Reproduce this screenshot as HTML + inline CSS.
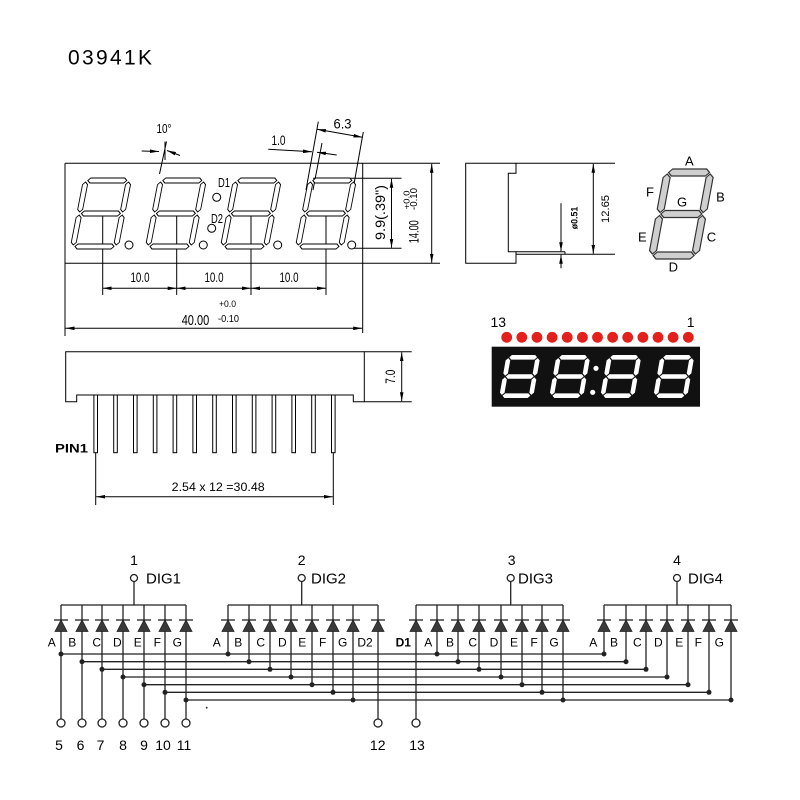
<!DOCTYPE html>
<html>
<head>
<meta charset="utf-8">
<style>
html,body{margin:0;padding:0;background:#fff;}
svg{display:block;}
text{font-family:"Liberation Sans",Arial,sans-serif;fill:#000;}
</style>
</head>
<body>
<svg width="800" height="800" viewBox="0 0 800 800" xmlns="http://www.w3.org/2000/svg">
<defs>
  <marker id="a" viewBox="0 0 10 4" refX="10" refY="2" markerWidth="9" markerHeight="3.6" orient="auto-start-reverse" markerUnits="userSpaceOnUse">
    <path d="M0,0 L10,2 L0,4 Z" fill="#000"/>
  </marker>
  <g id="fd" fill="#fff" stroke="#000" stroke-width="0.9">
    <polygon points="4.5,-68.5 7,-71 41,-71 43.5,-68.5 41,-66 7,-66"/>
    <polygon points="4.5,-35.5 7,-38 41,-38 43.5,-35.5 41,-33 7,-33"/>
    <polygon points="4.5,-2.5 7,-5 41,-5 43.5,-2.5 41,0 7,0"/>
    <polygon points="2.5,-67 5,-64.5 5,-39.5 2.5,-37 0,-39.5 0,-64.5"/>
    <polygon points="2.5,-34 5,-31.5 5,-6.5 2.5,-4 0,-6.5 0,-31.5"/>
    <polygon points="45.5,-67 48,-64.5 48,-39.5 45.5,-37 43,-39.5 43,-64.5"/>
    <polygon points="45.5,-34 48,-31.5 48,-6.5 45.5,-4 43,-6.5 43,-31.5"/>
  </g>
  <g id="sd" fill="#cfcfcf" stroke="#333" stroke-width="1.2">
    <polygon points="4.5,-86.5 8,-90 42,-90 45.5,-86.5 42,-83 8,-83"/>
    <polygon points="4.5,-45 8,-48.5 42,-48.5 45.5,-45 42,-41.5 8,-41.5"/>
    <polygon points="4.5,-3.5 8,-7 42,-7 45.5,-3.5 42,0 8,0"/>
    <polygon points="3.5,-85 7,-81.5 7,-50 3.5,-46.5 0,-50 0,-81.5"/>
    <polygon points="3.5,-43.5 7,-40 7,-8.5 3.5,-5 0,-8.5 0,-40"/>
    <polygon points="46.5,-85 50,-81.5 50,-50 46.5,-46.5 43,-50 43,-81.5"/>
    <polygon points="46.5,-43.5 50,-40 50,-8.5 46.5,-5 43,-8.5 43,-40"/>
  </g>
  <g id="rd" fill="#fff">
    <polygon points="3.1,-40.7 5.4,-43 28.6,-43 30.9,-40.7 28.6,-38.4 5.4,-38.4"/>
    <polygon points="3.1,-21.5 5.4,-23.8 28.6,-23.8 30.9,-21.5 28.6,-19.2 5.4,-19.2"/>
    <polygon points="3.1,-2.3 5.4,-4.6 28.6,-4.6 30.9,-2.3 28.6,0 5.4,0"/>
    <polygon points="2.3,-39.9 4.6,-37.6 4.6,-24.6 2.3,-22.3 0,-24.6 0,-37.6"/>
    <polygon points="2.3,-20.7 4.6,-18.4 4.6,-5.4 2.3,-3.1 0,-5.4 0,-18.4"/>
    <polygon points="31.7,-39.9 34,-37.6 34,-24.6 31.7,-22.3 29.4,-24.6 29.4,-37.6"/>
    <polygon points="31.7,-20.7 34,-18.4 34,-5.4 31.7,-3.1 29.4,-5.4 29.4,-18.4"/>
  </g>
  <g id="d">
    <line x1="-7" y1="0" x2="7" y2="0" stroke="#222" stroke-width="1.3"/>
    <polygon points="0,0 -6,11.5 6,11.5" fill="#3a3a3a" stroke="#222" stroke-width="0.8"/>
  </g>
</defs>

<rect width="800" height="800" fill="#fff"/>

<text x="68" y="64.5" font-size="21" textLength="84" lengthAdjust="spacing">03941K</text>

<!-- FRONT VIEW -->
<g stroke="#000" stroke-width="1" fill="none">
  <line x1="65" y1="163.3" x2="440" y2="163.3"/>
  <line x1="65" y1="263.3" x2="440" y2="263.3"/>
  <line x1="65" y1="163.3" x2="65" y2="336"/>
  <line x1="362.7" y1="163.3" x2="362.7" y2="333"/>
  <line x1="431.7" y1="163.8" x2="431.7" y2="262.8" marker-start="url(#a)" marker-end="url(#a)"/>
  <line x1="313" y1="178.3" x2="401.5" y2="178.3"/>
  <line x1="352" y1="248.3" x2="401.5" y2="248.3"/>
  <line x1="391.5" y1="178.8" x2="391.5" y2="247.8" marker-start="url(#a)" marker-end="url(#a)"/>
  <line x1="102.7" y1="213" x2="102.7" y2="295"/>
  <line x1="176.7" y1="213" x2="176.7" y2="295"/>
  <line x1="251" y1="213" x2="251" y2="295"/>
  <line x1="326" y1="213" x2="326" y2="295"/>
  <line x1="102.7" y1="288.3" x2="176.7" y2="288.3" marker-start="url(#a)" marker-end="url(#a)"/>
  <line x1="176.7" y1="288.3" x2="251" y2="288.3" marker-start="url(#a)" marker-end="url(#a)"/>
  <line x1="251" y1="288.3" x2="326" y2="288.3" marker-start="url(#a)" marker-end="url(#a)"/>
  <line x1="65.5" y1="328.3" x2="362.2" y2="328.3" marker-start="url(#a)" marker-end="url(#a)"/>
  <line x1="166.5" y1="141.5" x2="159.5" y2="174"/>
  <line x1="165" y1="141.5" x2="165" y2="160"/>
  <line x1="141.7" y1="151" x2="159" y2="151.5" marker-end="url(#a)"/>
  <line x1="180" y1="155.5" x2="167" y2="150.5" marker-end="url(#a)"/>
  <line x1="268.3" y1="149.3" x2="312" y2="151.8" marker-end="url(#a)"/>
  <line x1="336.7" y1="155" x2="317" y2="152.2" marker-end="url(#a)"/>
  <line x1="318.3" y1="121.7" x2="306" y2="190"/>
  <line x1="322" y1="143" x2="313" y2="190"/>
  <line x1="363.3" y1="132" x2="354" y2="184"/>
  <line x1="317" y1="129.3" x2="362.5" y2="137.3" marker-start="url(#a)" marker-end="url(#a)"/>
</g>

<use href="#fd" transform="translate(70,249) skewX(-11)"/>
<use href="#fd" transform="translate(145,249) skewX(-11)"/>
<use href="#fd" transform="translate(220,249) skewX(-11)"/>
<use href="#fd" transform="translate(295,249) skewX(-11)"/>
<g fill="#fff" stroke="#000" stroke-width="1">
  <circle cx="129" cy="245" r="4"/>
  <circle cx="203.3" cy="245" r="4"/>
  <circle cx="277.7" cy="245" r="4"/>
  <circle cx="351.7" cy="245" r="4"/>
  <circle cx="216.7" cy="197.3" r="4"/>
  <circle cx="211.7" cy="228.3" r="4"/>
</g>
<text x="218" y="187" font-size="13" textLength="12" lengthAdjust="spacingAndGlyphs">D1</text>
<text x="211" y="223" font-size="13" textLength="12" lengthAdjust="spacingAndGlyphs">D2</text>

<text x="130.5" y="282" font-size="14" textLength="19" lengthAdjust="spacingAndGlyphs">10.0</text>
<text x="204.5" y="282" font-size="14" textLength="19" lengthAdjust="spacingAndGlyphs">10.0</text>
<text x="279.5" y="282" font-size="14" textLength="19" lengthAdjust="spacingAndGlyphs">10.0</text>
<text x="181.7" y="325" font-size="15" textLength="27.5" lengthAdjust="spacingAndGlyphs">40.00</text>
<text x="219" y="307" font-size="9" textLength="17" lengthAdjust="spacingAndGlyphs">+0.0</text>
<text x="218" y="322" font-size="10" textLength="21" lengthAdjust="spacingAndGlyphs">-0.10</text>

<text x="156.5" y="133" font-size="13" textLength="15" lengthAdjust="spacingAndGlyphs">10°</text>
<text x="271.5" y="145" font-size="14" textLength="14" lengthAdjust="spacingAndGlyphs">1.0</text>
<text x="333.5" y="128.5" font-size="14" textLength="18" lengthAdjust="spacingAndGlyphs">6.3</text>

<text transform="translate(385,212.5) rotate(-90)" text-anchor="middle" font-size="14" textLength="55" lengthAdjust="spacingAndGlyphs">9.9(.39")</text>
<text transform="translate(409.5,200) rotate(-90)" text-anchor="middle" font-size="8" textLength="19" lengthAdjust="spacingAndGlyphs">+0.0</text>
<text transform="translate(417,199) rotate(-90)" text-anchor="middle" font-size="10" textLength="22" lengthAdjust="spacingAndGlyphs">-0.10</text>
<text transform="translate(418.5,231.7) rotate(-90)" text-anchor="middle" font-size="14" textLength="23" lengthAdjust="spacingAndGlyphs">14.00</text>

<!-- SIDE VIEW -->
<g stroke="#000" stroke-width="1" fill="none">
  <path d="M465.7,163.3 H516 V173.3 H508.3 V251.7 H516 V263.3 H465.7 Z"/>
  <line x1="516" y1="163.3" x2="615" y2="163.3"/>
  <line x1="516" y1="251.7" x2="565" y2="251.7"/>
  <line x1="516" y1="254.3" x2="615" y2="254.3"/>
  <line x1="565" y1="251.7" x2="565" y2="254.3"/>
  <line x1="593.3" y1="163.8" x2="593.3" y2="253.8" marker-start="url(#a)" marker-end="url(#a)"/>
  <line x1="561" y1="203.3" x2="561" y2="251.2" marker-end="url(#a)"/>
  <line x1="561" y1="268.3" x2="561" y2="254.8" marker-end="url(#a)"/>
</g>
<text transform="translate(609,209) rotate(-90)" text-anchor="middle" font-size="11" textLength="28" lengthAdjust="spacingAndGlyphs">12.65</text>
<text transform="translate(577.5,218) rotate(-90)" text-anchor="middle" font-size="9.5" font-weight="bold" textLength="22.6" lengthAdjust="spacingAndGlyphs">ø0.51</text>

<!-- SEGMENT DIAGRAM -->
<use href="#sd" transform="translate(648,259) skewX(-10.5)"/>
<g font-size="13" text-anchor="middle">
  <text x="689.3" y="165.5">A</text>
  <text x="650" y="196.5">F</text>
  <text x="720.5" y="201.5">B</text>
  <text x="682" y="206.5">G</text>
  <text x="642.3" y="241.5">E</text>
  <text x="711.5" y="241.5">C</text>
  <text x="673.3" y="271.5">D</text>
</g>

<!-- RED DISPLAY -->
<text x="498.3" y="327" font-size="14" text-anchor="middle">13</text>
<text x="690.7" y="327" font-size="14" text-anchor="middle">1</text>
<g fill="#e3201b">
  <circle cx="506.7" cy="337.3" r="5.4"/>
  <circle cx="521.8" cy="337.3" r="5.4"/>
  <circle cx="537.0" cy="337.3" r="5.4"/>
  <circle cx="552.1" cy="337.3" r="5.4"/>
  <circle cx="567.2" cy="337.3" r="5.4"/>
  <circle cx="582.4" cy="337.3" r="5.4"/>
  <circle cx="597.5" cy="337.3" r="5.4"/>
  <circle cx="612.6" cy="337.3" r="5.4"/>
  <circle cx="627.7" cy="337.3" r="5.4"/>
  <circle cx="642.9" cy="337.3" r="5.4"/>
  <circle cx="658.0" cy="337.3" r="5.4"/>
  <circle cx="673.1" cy="337.3" r="5.4"/>
  <circle cx="688.3" cy="337.3" r="5.4"/>
</g>
<rect x="491.7" y="346.7" width="208.3" height="60" fill="#111"/>
<use href="#rd" transform="translate(499,398) skewX(-10)"/>
<use href="#rd" transform="translate(549,398) skewX(-10)"/>
<use href="#rd" transform="translate(600,398) skewX(-10)"/>
<use href="#rd" transform="translate(653,398) skewX(-10)"/>
<circle cx="596" cy="368.3" r="2.6" fill="#fff"/>
<circle cx="592.7" cy="392.3" r="2.6" fill="#fff"/>

<!-- PIN VIEW -->
<g stroke="#000" stroke-width="1" fill="none">
  <path d="M65.7,351.7 H364.3 V401.7 H353.3 V395 H76.7 V401.7 H65.7 Z"/>
  <line x1="364.3" y1="351.7" x2="411.7" y2="351.7"/>
  <line x1="364.3" y1="401.7" x2="411.7" y2="401.7"/>
  <line x1="401.7" y1="352.2" x2="401.7" y2="401.2" marker-start="url(#a)" marker-end="url(#a)"/>
  <g fill="#fff">
    <rect x="93.9" y="395" width="3.6" height="57.7"/>
    <rect x="113.7" y="395" width="3.6" height="57.7"/>
    <rect x="133.5" y="395" width="3.6" height="57.7"/>
    <rect x="153.3" y="395" width="3.6" height="57.7"/>
    <rect x="173.1" y="395" width="3.6" height="57.7"/>
    <rect x="192.9" y="395" width="3.6" height="57.7"/>
    <rect x="212.7" y="395" width="3.6" height="57.7"/>
    <rect x="232.5" y="395" width="3.6" height="57.7"/>
    <rect x="252.3" y="395" width="3.6" height="57.7"/>
    <rect x="272.1" y="395" width="3.6" height="57.7"/>
    <rect x="291.9" y="395" width="3.6" height="57.7"/>
    <rect x="311.7" y="395" width="3.6" height="57.7"/>
    <rect x="331.5" y="395" width="3.6" height="57.7"/>
  </g>
  <line x1="95.7" y1="452.7" x2="95.7" y2="505"/>
  <line x1="333.3" y1="452.7" x2="333.3" y2="505"/>
  <line x1="96.2" y1="496.7" x2="332.8" y2="496.7" marker-start="url(#a)" marker-end="url(#a)"/>
</g>
<text transform="translate(395,376.7) rotate(-90)" text-anchor="middle" font-size="14" textLength="14" lengthAdjust="spacingAndGlyphs">7.0</text>
<text x="55" y="452.5" font-size="12" font-weight="bold" textLength="33" lengthAdjust="spacingAndGlyphs">PIN1</text>
<text x="171.7" y="491" font-size="12" textLength="93" lengthAdjust="spacingAndGlyphs">2.54 x 12 =30.48</text>

<!-- SCHEMATIC -->
<g stroke="#222" stroke-width="1.3" fill="none">
  <line x1="61" y1="605" x2="186" y2="605"/>
  <line x1="228" y1="605" x2="378" y2="605"/>
  <line x1="416" y1="605" x2="563" y2="605"/>
  <line x1="604" y1="605" x2="731" y2="605"/>
  <line x1="134" y1="581.5" x2="134" y2="605"/>
  <line x1="301.7" y1="581.5" x2="301.7" y2="605"/>
  <line x1="510.7" y1="581.5" x2="510.7" y2="605"/>
  <line x1="677" y1="581.5" x2="677" y2="605"/>
  <line x1="61" y1="605" x2="61" y2="719"/>
  <line x1="82" y1="605" x2="82" y2="719"/>
  <line x1="102" y1="605" x2="102" y2="719"/>
  <line x1="123" y1="605" x2="123" y2="719"/>
  <line x1="144" y1="605" x2="144" y2="719"/>
  <line x1="165" y1="605" x2="165" y2="719"/>
  <line x1="186" y1="605" x2="186" y2="719"/>
  <line x1="228" y1="605" x2="228" y2="654"/>
  <line x1="249" y1="605" x2="249" y2="661.7"/>
  <line x1="270" y1="605" x2="270" y2="669.3"/>
  <line x1="291" y1="605" x2="291" y2="677"/>
  <line x1="312" y1="605" x2="312" y2="684.7"/>
  <line x1="333" y1="605" x2="333" y2="692.3"/>
  <line x1="353" y1="605" x2="353" y2="700"/>
  <line x1="378" y1="605" x2="378" y2="719"/>
  <line x1="416" y1="605" x2="416" y2="719"/>
  <line x1="437" y1="605" x2="437" y2="654"/>
  <line x1="458" y1="605" x2="458" y2="661.7"/>
  <line x1="479" y1="605" x2="479" y2="669.3"/>
  <line x1="501" y1="605" x2="501" y2="677"/>
  <line x1="522" y1="605" x2="522" y2="684.7"/>
  <line x1="542" y1="605" x2="542" y2="692.3"/>
  <line x1="563" y1="605" x2="563" y2="700"/>
  <line x1="604" y1="605" x2="604" y2="654"/>
  <line x1="626" y1="605" x2="626" y2="661.7"/>
  <line x1="646" y1="605" x2="646" y2="669.3"/>
  <line x1="667" y1="605" x2="667" y2="677"/>
  <line x1="688" y1="605" x2="688" y2="684.7"/>
  <line x1="709" y1="605" x2="709" y2="692.3"/>
  <line x1="731" y1="605" x2="731" y2="700"/>
  <line x1="61" y1="654" x2="604" y2="654"/>
  <line x1="82" y1="661.7" x2="626" y2="661.7"/>
  <line x1="102" y1="669.3" x2="646" y2="669.3"/>
  <line x1="123" y1="677" x2="667" y2="677"/>
  <line x1="144" y1="684.7" x2="688" y2="684.7"/>
  <line x1="165" y1="692.3" x2="709" y2="692.3"/>
  <line x1="186" y1="700" x2="731" y2="700"/>
  <circle cx="134" cy="578" r="3.5" fill="#fff"/>
  <circle cx="301.7" cy="578" r="3.5" fill="#fff"/>
  <circle cx="510.7" cy="578" r="3.5" fill="#fff"/>
  <circle cx="677" cy="578" r="3.5" fill="#fff"/>
  <circle cx="61" cy="723" r="4" fill="#fff"/>
  <circle cx="82" cy="723" r="4" fill="#fff"/>
  <circle cx="102" cy="723" r="4" fill="#fff"/>
  <circle cx="123" cy="723" r="4" fill="#fff"/>
  <circle cx="144" cy="723" r="4" fill="#fff"/>
  <circle cx="165" cy="723" r="4" fill="#fff"/>
  <circle cx="186" cy="723" r="4" fill="#fff"/>
  <circle cx="378" cy="723" r="4" fill="#fff"/>
  <circle cx="416" cy="723" r="4" fill="#fff"/>
</g>

<g>
  <use href="#d" transform="translate(61,620)"/>
  <use href="#d" transform="translate(82,620)"/>
  <use href="#d" transform="translate(102,620)"/>
  <use href="#d" transform="translate(123,620)"/>
  <use href="#d" transform="translate(144,620)"/>
  <use href="#d" transform="translate(165,620)"/>
  <use href="#d" transform="translate(186,620)"/>
  <use href="#d" transform="translate(228,620)"/>
  <use href="#d" transform="translate(249,620)"/>
  <use href="#d" transform="translate(270,620)"/>
  <use href="#d" transform="translate(291,620)"/>
  <use href="#d" transform="translate(312,620)"/>
  <use href="#d" transform="translate(333,620)"/>
  <use href="#d" transform="translate(353,620)"/>
  <use href="#d" transform="translate(378,620)"/>
  <use href="#d" transform="translate(416,620)"/>
  <use href="#d" transform="translate(437,620)"/>
  <use href="#d" transform="translate(458,620)"/>
  <use href="#d" transform="translate(479,620)"/>
  <use href="#d" transform="translate(501,620)"/>
  <use href="#d" transform="translate(522,620)"/>
  <use href="#d" transform="translate(542,620)"/>
  <use href="#d" transform="translate(563,620)"/>
  <use href="#d" transform="translate(604,620)"/>
  <use href="#d" transform="translate(626,620)"/>
  <use href="#d" transform="translate(646,620)"/>
  <use href="#d" transform="translate(667,620)"/>
  <use href="#d" transform="translate(688,620)"/>
  <use href="#d" transform="translate(709,620)"/>
  <use href="#d" transform="translate(731,620)"/>
</g>

<g fill="#222">
  <circle cx="61" cy="654" r="2.5"/>
  <circle cx="82" cy="661.7" r="2.5"/>
  <circle cx="102" cy="669.3" r="2.5"/>
  <circle cx="123" cy="677" r="2.5"/>
  <circle cx="144" cy="684.7" r="2.5"/>
  <circle cx="165" cy="692.3" r="2.5"/>
  <circle cx="186" cy="700" r="2.5"/>
  <circle cx="228" cy="654" r="2.5"/>
  <circle cx="249" cy="661.7" r="2.5"/>
  <circle cx="270" cy="669.3" r="2.5"/>
  <circle cx="291" cy="677" r="2.5"/>
  <circle cx="312" cy="684.7" r="2.5"/>
  <circle cx="333" cy="692.3" r="2.5"/>
  <circle cx="353" cy="700" r="2.5"/>
  <circle cx="437" cy="654" r="2.5"/>
  <circle cx="458" cy="661.7" r="2.5"/>
  <circle cx="479" cy="669.3" r="2.5"/>
  <circle cx="501" cy="677" r="2.5"/>
  <circle cx="522" cy="684.7" r="2.5"/>
  <circle cx="542" cy="692.3" r="2.5"/>
  <circle cx="563" cy="700" r="2.5"/>
  <circle cx="604" cy="654" r="2.5"/>
  <circle cx="626" cy="661.7" r="2.5"/>
  <circle cx="646" cy="669.3" r="2.5"/>
  <circle cx="667" cy="677" r="2.5"/>
  <circle cx="688" cy="684.7" r="2.5"/>
  <circle cx="709" cy="692.3" r="2.5"/>
  <circle cx="731" cy="700" r="2.5"/>
  <circle cx="206.7" cy="707.7" r="0.9"/>
</g>

<g font-size="14" text-anchor="middle" fill="#111">
  <text x="134" y="565">1</text>
  <text x="301.7" y="565">2</text>
  <text x="511.7" y="565">3</text>
  <text x="677" y="565">4</text>
</g>
<g font-size="15">
  <text x="146" y="583.5">DIG1</text>
  <text x="311" y="583.5">DIG2</text>
  <text x="518" y="583.5">DIG3</text>
  <text x="688" y="583.5">DIG4</text>
</g>
<g font-size="12" text-anchor="middle">
  <text x="51.7" y="646.5">A</text>
  <text x="72.3" y="646.5">B</text>
  <text x="96.7" y="646.5">C</text>
  <text x="117.3" y="646.5">D</text>
  <text x="137.7" y="646.5">E</text>
  <text x="157.3" y="646.5">F</text>
  <text x="177.3" y="646.5">G</text>
  <text x="216.7" y="646.5">A</text>
  <text x="238.3" y="646.5">B</text>
  <text x="260.7" y="646.5">C</text>
  <text x="282.3" y="646.5">D</text>
  <text x="302.3" y="646.5">E</text>
  <text x="322.7" y="646.5">F</text>
  <text x="342.7" y="646.5">G</text>
  <text x="365" y="646.5">D2</text>
  <text x="403.3" y="646.5" font-weight="bold">D1</text>
  <text x="428.3" y="646.5">A</text>
  <text x="450" y="646.5">B</text>
  <text x="472.7" y="646.5">C</text>
  <text x="494" y="646.5">D</text>
  <text x="514" y="646.5">E</text>
  <text x="534" y="646.5">F</text>
  <text x="554" y="646.5">G</text>
  <text x="593.3" y="646.5">A</text>
  <text x="614" y="646.5">B</text>
  <text x="637.3" y="646.5">C</text>
  <text x="658.3" y="646.5">D</text>
  <text x="679.3" y="646.5">E</text>
  <text x="698.3" y="646.5">F</text>
  <text x="719.3" y="646.5">G</text>
</g>
<g font-size="14" text-anchor="middle" fill="#111">
  <text x="59" y="750">5</text>
  <text x="80.5" y="750">6</text>
  <text x="100.5" y="750">7</text>
  <text x="123" y="750">8</text>
  <text x="144" y="750">9</text>
  <text x="163" y="750">10</text>
  <text x="184" y="750">11</text>
  <text x="377.7" y="750">12</text>
  <text x="417" y="750">13</text>
</g>
</svg>
</body>
</html>
